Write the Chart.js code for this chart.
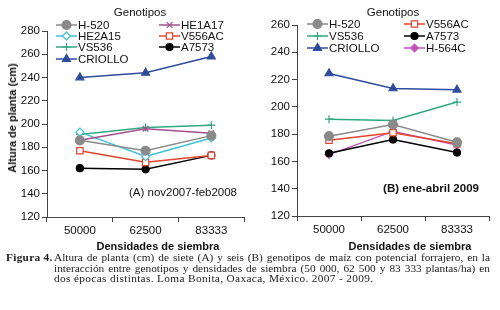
<!DOCTYPE html>
<html lang="es">
<head>
<meta charset="UTF-8">
<title>Altura de planta</title>
<script src="https://cdn.jsdelivr.net/npm/chart.js"></script>
<style>
  body { margin: 0; background: #fff; }
  #wrap { position: relative; width: 500px; height: 310px; overflow: hidden; font-family: "Liberation Sans", Arial, sans-serif; color: #111; }
  #wrap canvas { position: absolute; top: 0; }
  .lbl { position: absolute; white-space: nowrap; transform: translate(-50%, -50%); }
  .axt { font-weight: bold; font-size: 11px; }
  .note { font-size: 11.5px; }
  #cap { position: absolute; left: 0; top: 252px; width: 500px; font-family: "Liberation Serif", "Times New Roman", serif; font-size: 11.3px; line-height: 10.7px; color: #222; }
  #cap b { position: absolute; left: 6px; top: 0; letter-spacing: 0.3px; }
  #cap .txt { position: absolute; left: 54px; width: 436px; }
  #cap .ln { white-space: nowrap; text-align: justify; text-align-last: justify; }
  #cap .ln.last { text-align-last: left; letter-spacing: 0.35px; }
</style>
</head>
<body>
<div id="wrap">
  <canvas id="chartA" width="250" height="250" style="left:0"></canvas>
  <canvas id="chartB" width="250" height="250" style="left:250px"></canvas>
  <div class="lbl axt" style="left:12px; top:118px; transform: translate(-50%, -50%) rotate(-90deg);">Altura de planta (cm)</div>
  <div class="lbl axt" style="left:158px; top:246px;">Densidades de siembra</div>
  <div class="lbl axt" style="left:410px; top:246px;">Densidades de siembra</div>
  <div class="lbl note" style="left:183px; top:192px;">(A) nov2007-feb2008</div>
  <div class="lbl note" style="left:431px; top:188px; font-weight:bold;">(B) ene-abril 2009</div>
  <div id="cap">
    <b>Figura 4.</b>
    <div class="txt">
      <div class="ln">Altura de planta (cm) de siete (A) y seis (B) genotipos de maíz con potencial forrajero, en la</div>
      <div class="ln">interacción entre genotipos y densidades de siembra (50 000, 62 500 y 83 333 plantas/ha) en</div>
      <div class="ln last">dos épocas distintas. Loma Bonita, Oaxaca, México. 2007 - 2009.</div>
    </div>
  </div>
</div>
<script>
  // densidades de siembra (plantas/ha)
  const densidades = ['50000', '62500', '83333'];

  // (A) nov2007-feb2008
  const h520A    = [186, 177, 190];
  const he1a17A  = [186, 196, 192];
  const he2a15A  = [193, 172, 188];
  const v556acA  = [177, 167, 173];
  const vs536A   = [191, 197, 199];
  const a7573A   = [162, 161, 173];
  const criolloA = [240, 244, 258];

  // (B) ene-abril 2009
  const h520B    = [178.5, 187, 174];
  const v556acB  = [175.5, 181, 173];
  const vs536B   = [191, 190, 203.5];
  const a7573B   = [166, 176, 166.5];
  const criolloB = [224.5, 213.5, 212.5];
  const h564cB   = [165, 182, 172];

  const ticksA = [120, 280];
  const ticksB = [120, 260];

  // estilo de cada genotipo
  const estilos = {
    'H-520':   { color: '#8a8a8a', fill: '#8a8a8a', pointStyle: 'circle',   r: 4.5 },
    'HE1A17':  { color: '#a24f8c', fill: '#a24f8c', pointStyle: 'crossRot', r: 4 },
    'HE2A15':  { color: '#3cc3d6', fill: '#ffffff', pointStyle: 'rectRot',  r: 4 },
    'V556AC':  { color: '#e2442e', fill: '#ffffff', pointStyle: 'rect',     r: 4.5 },
    'VS536':   { color: '#2fa882', fill: '#2fa882', pointStyle: 'cross',    r: 4 },
    'A7573':   { color: '#000000', fill: '#000000', pointStyle: 'circle',   r: 3.5 },
    'CRIOLLO': { color: '#2e4c9e', fill: '#2e4c9e', pointStyle: 'triangle', r: 4.6 },
    'H-564C':  { color: '#c452b6', fill: '#c452b6', pointStyle: 'rectRot',  r: 3.8 }
  };

  function drawMarker(ctx, style, x, y, r, fill, stroke, lw) {
    ctx.save();
    ctx.fillStyle = fill;
    ctx.strokeStyle = stroke;
    ctx.lineWidth = lw;
    ctx.beginPath();
    if (style === 'circle') {
      ctx.arc(x, y, r, 0, Math.PI * 2);
    } else if (style === 'triangle') {
      ctx.moveTo(x, y - r);
      ctx.lineTo(x + r * 0.866, y + r * 0.5);
      ctx.lineTo(x - r * 0.866, y + r * 0.5);
      ctx.closePath();
    } else if (style === 'rectRot') {
      ctx.moveTo(x, y - r); ctx.lineTo(x + r, y); ctx.lineTo(x, y + r); ctx.lineTo(x - r, y);
      ctx.closePath();
    } else if (style === 'rect') {
      const s = r * Math.SQRT1_2;
      ctx.rect(x - s, y - s, 2 * s, 2 * s);
    } else if (style === 'crossRot') {
      const s = r * Math.SQRT1_2;
      ctx.moveTo(x - s, y - s); ctx.lineTo(x + s, y + s);
      ctx.moveTo(x - s, y + s); ctx.lineTo(x + s, y - s);
      ctx.stroke(); ctx.restore(); return;
    } else if (style === 'cross') {
      ctx.moveTo(x - r, y); ctx.lineTo(x + r, y);
      ctx.moveTo(x, y - r); ctx.lineTo(x, y + r);
      ctx.stroke(); ctx.restore(); return;
    }
    ctx.fill();
    ctx.stroke();
    ctx.restore();
  }

  // leyenda en dos columnas, como en la figura
  const gridLegend = {
    id: 'gridLegend',
    afterDatasetsDraw(chart, args, opts) {
      const ctx = chart.ctx;
      ctx.save();
      ctx.font = '11.5px "Liberation Sans", Arial, sans-serif';
      ctx.fillStyle = '#111';
      ctx.textBaseline = 'middle';
      ctx.textAlign = 'center';
      ctx.fillText(opts.title, opts.titleX, opts.titleY);
      ctx.textAlign = 'left';
      chart.data.datasets.forEach((ds, i) => {
        const x = opts.cols[i % 2];
        const y = opts.rows[Math.floor(i / 2)];
        ctx.strokeStyle = ds.borderColor;
        ctx.lineWidth = ds.borderWidth;
        ctx.beginPath();
        ctx.moveTo(x, y);
        ctx.lineTo(x + opts.lineLen, y);
        ctx.stroke();
        drawMarker(ctx, ds.pointStyle, x + opts.lineLen / 2, y, ds.pointRadius,
          ds.pointBackgroundColor, ds.pointBorderColor, ds.pointBorderWidth);
        ctx.fillStyle = '#111';
        ctx.fillText(ds.label, x + opts.lineLen + 1, y + 0.5);
      });
      ctx.restore();
    }
  };

  function serie(name, values) {
    const e = estilos[name];
    return {
      label: name,
      data: values,
      borderColor: e.color,
      borderWidth: 1.5,
      pointStyle: e.pointStyle,
      pointRadius: e.r,
      pointHoverRadius: e.r,
      pointBackgroundColor: e.fill,
      pointBorderColor: e.color,
      pointBorderWidth: 1.2,
      tension: 0,
      fill: false
    };
  }

  function makeChart(id, datasets, yRange, pad, axisW, axisH, legend) {
    const tickFont = { family: '"Liberation Sans", Arial, sans-serif', size: 11.5 };
    new Chart(document.getElementById(id), {
      type: 'line',
      data: { labels: densidades, datasets: datasets },
      options: {
        responsive: false,
        animation: false,
        events: [],
        layout: { padding: pad },
        plugins: {
          legend: { display: false },
          tooltip: { enabled: false },
          gridLegend: legend
        },
        scales: {
          x: {
            offset: true,
            grid: { offset: true, drawOnChartArea: false, drawTicks: true, tickLength: 5, color: '#444' },
            border: { display: true, color: '#444', width: 1 },
            ticks: { font: tickFont, color: '#111', padding: 2, maxRotation: 0 },
            afterFit(s) { s.height = axisH; }
          },
          y: {
            min: yRange[0],
            max: yRange[1],
            grid: { drawOnChartArea: false, drawTicks: true, tickLength: 5, color: '#444' },
            border: { display: true, color: '#444', width: 1 },
            ticks: { stepSize: 20, font: tickFont, color: '#111', padding: 2 },
            afterFit(s) { s.width = axisW; }
          }
        }
      },
      plugins: [gridLegend]
    });
  }

  makeChart('chartA', [
    serie('H-520', h520A),
    serie('HE1A17', he1a17A),
    serie('HE2A15', he2a15A),
    serie('V556AC', v556acA),
    serie('VS536', vs536A),
    serie('A7573', a7573A),
    serie('CRIOLLO', criolloA)
  ], ticksA, { left: 0, top: 31, right: 4, bottom: 0 }, 47, 33, {
    title: 'Genotipos', titleX: 140, titleY: 13,
    cols: [56, 159], rows: [25, 36, 47, 59], lineLen: 21
  });

  makeChart('chartB', [
    serie('H-520', h520B),
    serie('V556AC', v556acB),
    serie('VS536', vs536B),
    serie('A7573', a7573B),
    serie('CRIOLLO', criolloB),
    serie('H-564C', h564cB)
  ], ticksB, { left: 0, top: 25, right: 11, bottom: 0 }, 47, 34, {
    title: 'Genotipos', titleX: 143, titleY: 13,
    cols: [57, 154], rows: [24, 36, 48], lineLen: 21
  });
</script>
</body>
</html>
